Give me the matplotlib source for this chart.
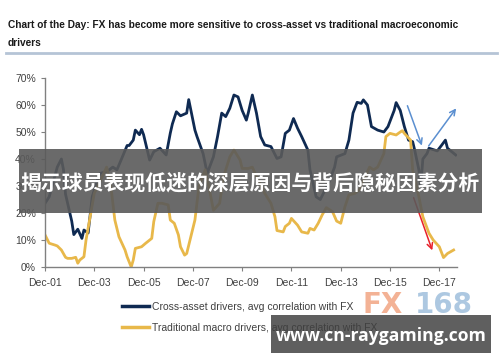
import pandas as pd
import matplotlib
matplotlib.use("Agg")
import matplotlib.pyplot as plt
from matplotlib.lines import Line2D
from matplotlib.patches import Rectangle

# cross-asset drivers, avg correlation with FX (%)
cross_dates = [
    "2001-12", "2002-02", "2002-03", "2002-06", "2002-08", "2002-09", "2002-10", "2003-01",
    "2003-02", "2003-04", "2003-06", "2003-07", "2003-09", "2003-11", "2004-02", "2004-03",
    "2004-06", "2004-09", "2004-11", "2005-01", "2005-04", "2005-05", "2005-07", "2005-08",
    "2005-10", "2005-11", "2005-12", "2006-03", "2006-05", "2006-08", "2006-11", "2007-01",
    "2007-02", "2007-04", "2007-06", "2007-09", "2007-10", "2008-01", "2008-02", "2008-05",
    "2008-07", "2008-10", "2008-12", "2009-02", "2009-04", "2009-06", "2009-08", "2009-10",
    "2009-12", "2010-02", "2010-03", "2010-05", "2010-07", "2010-09", "2010-11", "2011-02",
    "2011-05", "2011-07", "2011-09", "2011-11", "2012-01", "2012-03", "2012-05", "2012-08",
    "2012-09", "2012-12", "2013-02", "2013-06", "2013-09", "2013-10", "2014-02", "2014-04",
    "2014-06", "2014-08", "2014-10", "2014-11", "2015-01", "2015-03", "2015-06", "2015-09",
    "2015-11", "2016-02", "2016-03", "2016-05", "2016-07", "2016-09", "2016-11", "2016-12",
    "2017-02", "2017-03", "2017-04", "2017-06", "2017-07", "2017-11", "2018-01", "2018-03",
    "2018-04", "2018-08",
]
cross_vals = [
    23.6, 26, 28.5, 37, 40, 36, 27, 17, 12, 14, 10.6, 13.7, 12.6, 26, 33.5, 34.7,
    35.3, 37, 36, 39.6, 45, 45, 47, 50.7, 49, 51, 49, 39.6, 42.7, 44, 41.5, 49.6,
    53, 57.5, 56, 57, 62, 50.7, 48.3, 42, 34.7, 40.8, 48.3, 57, 55.7, 58.8, 63.7, 63,
    58, 54.4, 57, 63.7, 57, 48.3, 45.2, 44.6, 40.2, 40.8, 49.5, 50.7, 55, 51.4, 48.3, 43.3,
    36, 26, 25, 31, 37, 40.8, 42, 47, 57, 61, 60.6, 61.9, 60, 52, 50.7, 50,
    52, 58, 60.9, 58, 52, 47, 46.4, 43.3, 36, 30, 40, 42, 44, 43, 45, 47,
    44, 41.5,
]

# traditional macro drivers, avg correlation with FX (%)
macro_dates = [
    "2001-12", "2002-02", "2002-05", "2002-06", "2002-08", "2002-10", "2002-11", "2003-01",
    "2003-03", "2003-04", "2003-05", "2003-07", "2003-08", "2003-10", "2003-12", "2004-03",
    "2004-06", "2004-08", "2004-10", "2004-12", "2005-03", "2005-04", "2005-06", "2005-07",
    "2005-08", "2005-11", "2006-01", "2006-04", "2006-05", "2006-07", "2006-09", "2006-12",
    "2007-01", "2007-03", "2007-05", "2007-06", "2007-08", "2007-09", "2007-11", "2008-01",
    "2008-03", "2008-06", "2008-08", "2008-10", "2009-01", "2009-03", "2009-06", "2009-08",
    "2009-11", "2009-12", "2010-03", "2010-05", "2010-07", "2010-11", "2011-02", "2011-04",
    "2011-05", "2011-08", "2011-09", "2011-11", "2011-12", "2012-03", "2012-05", "2012-08",
    "2012-09", "2012-11", "2013-01", "2013-03", "2013-05", "2013-08", "2013-10", "2013-12",
    "2014-02", "2014-04", "2014-07", "2014-09", "2014-11", "2015-02", "2015-04", "2015-06",
    "2015-09", "2015-10", "2015-12", "2016-03", "2016-05", "2016-06", "2016-07", "2016-10",
    "2016-11", "2017-02", "2017-04", "2017-07", "2017-09", "2017-12", "2018-02", "2018-04",
    "2018-07",
]
macro_vals = [
    11.9, 8.8, 8.1, 7.8, 6.3, 3.6, 3.2, 3.2, 3.6, 1.4, 2.6, 3.8, 10, 18.6, 27.3, 32,
    37, 30.4, 17.4, 11.2, 6.3, 3.8, 0, 2.6, 6.9, 7.5, 8.8, 10.6, 16.8, 23.6, 23.6, 23,
    17.4, 16.2, 11.9, 7.5, 4.4, 5, 11.2, 17.4, 30, 36, 29, 21, 23.6, 33.5, 40.8, 43.3,
    39.6, 36.5, 36.5, 37, 33.5, 27.3, 23.6, 18.6, 13.5, 13, 15, 16.2, 18, 15.5, 13, 12.5,
    14.3, 13.7, 16.2, 19.3, 22, 20.5, 17, 16.2, 22.3, 26.7, 27.3, 28.5, 32, 37, 36, 37,
    42, 48.3, 49.5, 48.9, 50, 50.5, 49.5, 47, 36, 26, 18.6, 12.5, 10, 7.5, 3.5, 5,
    6.3,
]

yticks = [0, 10, 20, 30, 40, 50, 60, 70]
xtick_dates = ["2001-12", "2003-12", "2005-12", "2007-12", "2009-12", "2011-12",
               "2013-12", "2015-12", "2017-12"]
xtick_labels = ["Dec-01", "Dec-03", "Dec-05", "Dec-07", "Dec-09", "Dec-11",
                "Dec-13", "Dec-15", "Dec-17"]

title = ("Chart of the Day: FX has become more sensitive to cross-asset vs traditional macroeconomic\n"
         "drivers")
labels = ["Cross-asset drivers, avg correlation with FX",
          "Traditional macro drivers, avg correlation with FX"]
banner = "揭示球员表现低迷的深层原因与背后隐秘因素分析"
site = "www.cn-raygaming.com"

navy = "#0f2a52"
gold = "#e8b84a"
txt = "#404040"

plt.rcParams["font.family"] = ["Liberation Sans", "DejaVu Sans"]

fig = plt.figure(figsize=(5, 3.62), dpi=100)
ax = fig.add_axes([0.09, 0.2624, 0.824, 0.5221])

cd = pd.to_datetime(cross_dates)
md = pd.to_datetime(macro_dates)
ax.plot(cd, cross_vals, color=navy, lw=2, solid_joinstyle="round")
ax.plot(md, macro_vals, color=gold, lw=2, solid_joinstyle="round")

ax.set_ylim(0, 70)
ax.set_xlim(pd.Timestamp("2001-12-01"), pd.Timestamp("2018-08-20"))
ax.set_yticks(yticks)
ax.set_yticklabels([f"{v}%" for v in yticks])
ax.set_xticks(pd.to_datetime(xtick_dates))
ax.set_xticklabels(xtick_labels)
for s in ["top", "right"]:
    ax.spines[s].set_visible(False)
for s in ["left", "bottom"]:
    ax.spines[s].set_color("#808080")
    ax.spines[s].set_linewidth(1)
ax.tick_params(colors="#808080", labelcolor=txt, labelsize=7.5, length=3, direction="out")
ax.tick_params(axis="x", pad=5)

# arrows
def arrow(x0, y0, x1, y1, color):
    ax.annotate("", xy=(pd.Timestamp(x1), y1), xytext=(pd.Timestamp(x0), y0),
                annotation_clip=False,
                arrowprops=dict(arrowstyle="->", color=color, lw=1.1, mutation_scale=10))

arrow("2016-08-01", 60.7, "2017-04-01", 44, "#5b8fd0")
arrow("2017-06-01", 44, "2018-09-01", 59.6, "#5b8fd0")
arrow("2016-11-01", 26.7, "2017-09-01", 5.2, "#e8202a")

# title and rule
fig.text(0.016, 1 - 20 / 362, title, fontsize=7.3, fontweight="bold", color="#1a1a1a",
         va="top", ha="left", linespacing=1.95)
fig.add_artist(Line2D([6 / 500, 497 / 500], [1 - 53 / 362] * 2, color="#b5c4d6", lw=2))

# legend
handles = [Line2D([], [], color=navy, lw=2.5), Line2D([], [], color=gold, lw=2.5)]
fig.legend(handles, labels, loc="upper left", bbox_to_anchor=(0.244, 1 - 302 / 362),
           frameon=False, fontsize=7.5, handlelength=2.6, handletextpad=0.3,
           labelspacing=1.05, labelcolor=txt, borderaxespad=0, borderpad=0)

# FX168 logo
fig.text(383 / 500, 1 - 305 / 362, "FX", fontsize=20, fontweight="bold", color="#f2a583",
         alpha=0.85, va="center", ha="center", family="DejaVu Sans")
fig.text(415 / 500, 1 - 305 / 362, "168", fontsize=20, fontweight="bold", color="#9fbfdc",
         alpha=0.85, va="center", ha="left", family="DejaVu Sans")

# overlay banner
fig.add_artist(Rectangle((19 / 500, 1 - 213 / 362), 463 / 500, 64 / 362,
                         transform=fig.transFigure, color="#5a5a5a", alpha=0.9, lw=0))
fig.text(250 / 500, 1 - 184 / 362, banner, fontsize=15, fontweight="bold", color="white",
         va="center", ha="center", family=["Noto Sans CJK SC", "DejaVu Sans"])

# site watermark
fig.add_artist(Rectangle((271 / 500, 1 - 353 / 362), 220 / 500, 38 / 362,
                         transform=fig.transFigure, color="#5a5a5a", alpha=0.97, lw=0))
fig.text(381 / 500, 1 - 336 / 362, site, fontsize=12.6, fontweight="bold", color="white",
         va="center", ha="center", family="Open Sans")

fig.savefig("out.png", dpi=100)
